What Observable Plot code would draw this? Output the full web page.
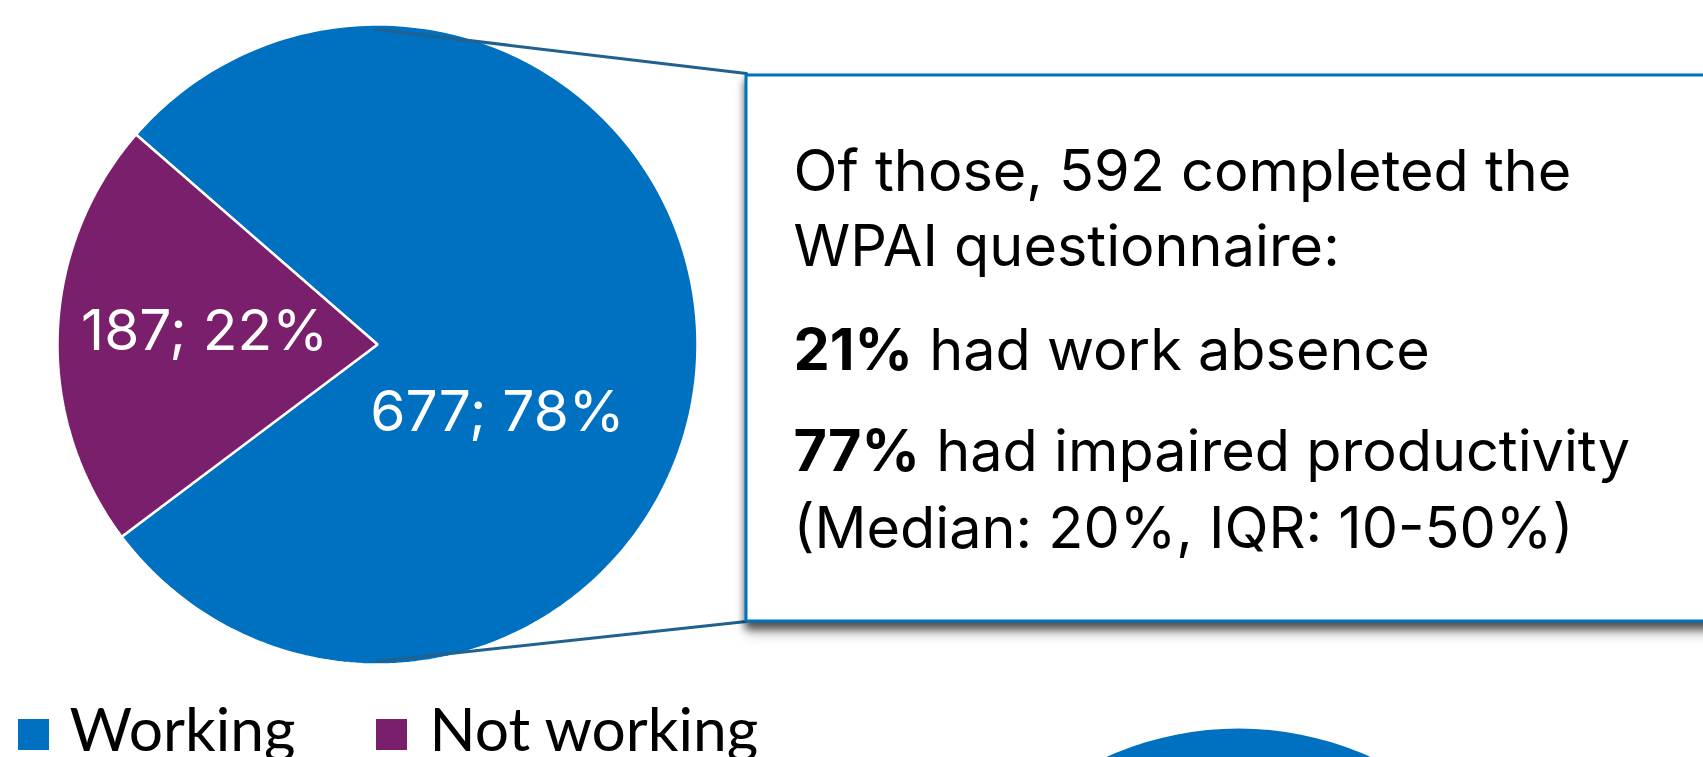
<!DOCTYPE html>
<html>
<head>
<meta charset="utf-8">
<script src="https://cdn.jsdelivr.net/npm/d3@7"></script>
<script src="https://cdn.jsdelivr.net/npm/@observablehq/plot@0.6"></script>
<style>
  html, body { margin: 0; padding: 0; background: #fff; overflow: hidden; }
  #chart svg { display: block; }
</style>
</head>
<body>
<div id="chart"></div>
<script>
// ---- data ----
const categories = ["Working", "Not working"];
const counts = [677, 187];
const percents = [78, 22];
const sliceColors = ["#0070C0", "#7A1F6B"];

const boxBold = ["", "", "21%", "77%", ""];
const boxPlain = [
  "Of those, 592 completed the",
  "WPAI questionnaire:",
  " had work absence",
  " had impaired productivity",
  "(Median: 20%, IQR: 10-50%)"
];

// ---- layout ----
const W = 1703, H = 757;
const pie = {cx: 377, cy: 344, r: 320, start: -49};
const labelAt = [[497, 430], [204, 349]];          // baseline centres of slice labels
const box = {x1: 746, y1: 75, x2: 1730, y2: 621};
const boxTextX = 793;
const boxBaselines = [190, 265, 369, 470, 547];
const legendSquareX = [18, 376], legendTextX = [69, 429];
const legendY = 719, legendSize = 31, legendBaseline = 750;
const nextPie = {cx: 1238, cy: 1048, r: 320};
const connectorColor = "#20618E";

// ---- font fitting ----
const ctx = document.createElement("canvas").getContext("2d");
function widthOf(text, family, weight, size) {
  ctx.font = `${weight} ${size}px ${family}`;
  return ctx.measureText(text).width;
}
function fit(text, family, weight, target) {
  return 100 * target / widthOf(text, family, weight, 100);
}
const boxFont = "Inter";
const legendFont = "Lato";
const boxSize = fit(boxPlain[0], boxFont, 400, 778);
const labelSize = fit(`${counts[1]}; ${percents[1]}%`, boxFont, 400, 247);
const legendSize2 = fit(categories[0], legendFont, 400, 226);

// ---- pie geometry via d3.pie ----
const arcs = d3.pie().sort(null)
  .startAngle(pie.start * Math.PI / 180)
  .endAngle((pie.start + 360) * Math.PI / 180)(counts);
function slicePoints(a) {
  const pts = [{x: pie.cx, y: pie.cy}];
  const n = 240;
  for (let i = 0; i <= n; i++) {
    const t = a.startAngle + (a.endAngle - a.startAngle) * i / n;
    pts.push({x: pie.cx + pie.r * Math.sin(t), y: pie.cy - pie.r * Math.cos(t)});
  }
  return pts;
}

const sliceMarks = arcs.map((a, i) =>
  Plot.line(slicePoints(a), {
    x: "x", y: "y", fill: sliceColors[i], stroke: "white", strokeWidth: 2.5,
    strokeLinejoin: "miter", curve: "linear-closed"
  })
);

const sliceLabels = categories.map((c, i) => ({
  x: labelAt[i][0], y: labelAt[i][1], text: `${counts[i]}; ${percents[i]}%`
}));

const connectors = [
  [{x: pie.cx - 1, y: pie.cy - pie.r + 5}, {x: box.x1, y: box.y1 - 2}],
  [{x: pie.cx - 1, y: pie.cy + pie.r - 3}, {x: box.x1, y: box.y2}]
];

const boldW = boxBold.map(b => b ? widthOf(b, boxFont, 700, boxSize) : 0);
const boxRows = boxPlain.map((p, i) => ({
  bold: boxBold[i], plain: p, y: boxBaselines[i], xPlain: boxTextX + boldW[i]
}));

const legendRows = categories.map((c, i) => ({
  label: c, color: sliceColors[i], sx: legendSquareX[i], tx: legendTextX[i]
}));

const chart = Plot.plot({
  width: W, height: H,
  margin: 0,
  x: {type: "linear", domain: [0, W], range: [0, W], axis: null},
  y: {type: "linear", domain: [0, H], range: [0, H], axis: null},
  style: {background: "white", overflow: "hidden"},
  marks: [
    Plot.dot([nextPie], {x: "cx", y: "cy", r: nextPie.r, fill: sliceColors[0], stroke: "none"}),
    ...sliceMarks,
    ...connectors.map(seg => Plot.line(seg, {x: "x", y: "y", stroke: connectorColor, strokeWidth: 3})),
    Plot.rect([box], {x1: "x1", x2: "x2", y1: "y1", y2: "y2", fill: "white",
      stroke: "#0070C0", strokeWidth: 3, className: "wpai-box"}),
    Plot.text(boxRows.filter(d => d.bold), {x: boxTextX, y: "y", text: "bold", textAnchor: "start",
      lineAnchor: "bottom", fontFamily: boxFont, fontWeight: 700, fontSize: boxSize, fill: "black"}),
    Plot.text(boxRows, {x: "xPlain", y: "y", text: "plain", textAnchor: "start",
      lineAnchor: "bottom", fontFamily: boxFont, fontWeight: 400, fontSize: boxSize, fill: "black"}),
    Plot.text(sliceLabels, {x: "x", y: "y", text: "text", textAnchor: "middle",
      lineAnchor: "bottom", fontFamily: boxFont, fontSize: labelSize, fill: "white"}),
    Plot.rect(legendRows, {x1: "sx", x2: d => d.sx + legendSize, y1: legendY, y2: legendY + legendSize,
      fill: "color"}),
    Plot.text(legendRows, {x: "tx", y: legendBaseline, text: "label", textAnchor: "start",
      lineAnchor: "bottom", fontFamily: legendFont, fontSize: legendSize2, fill: "black"})
  ],
  color: {type: "identity"}
});

document.getElementById("chart").appendChild(chart);
d3.select(chart).selectAll(".wpai-box rect, g.wpai-box rect, rect.wpai-box")
  .style("filter", "drop-shadow(1px 6px 4px rgba(0,0,0,0.45))");
d3.select(chart).selectAll("[class*='wpai-box']")
  .style("filter", "drop-shadow(1px 6px 4px rgba(0,0,0,0.45))");
</script>
</body>
</html>
